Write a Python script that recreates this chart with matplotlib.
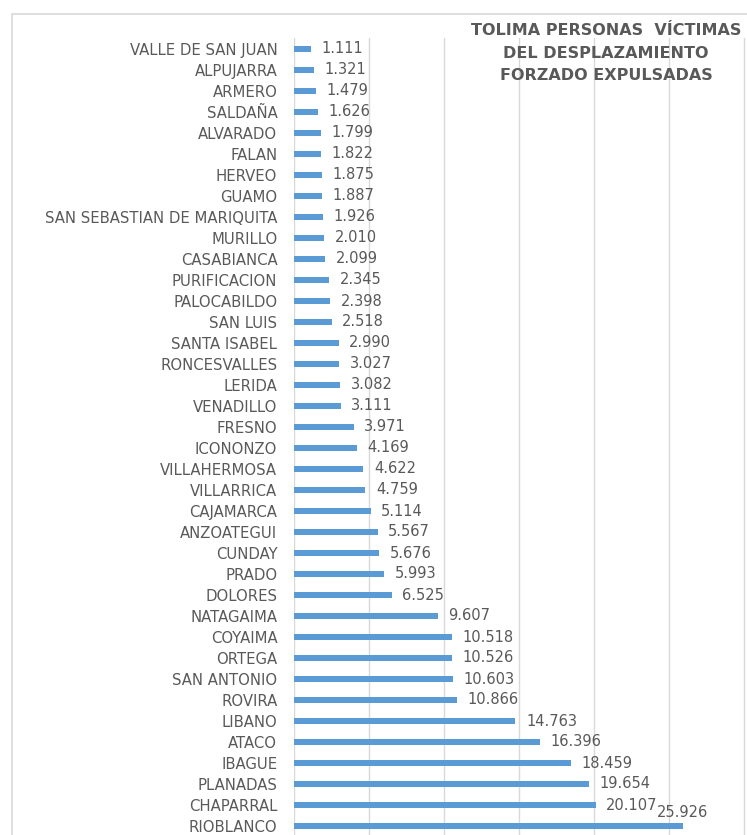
import matplotlib
matplotlib.use('Agg')
import matplotlib.pyplot as plt
from matplotlib.patches import Rectangle

municipios = ['VALLE DE SAN JUAN', 'ALPUJARRA', 'ARMERO', 'SALDAÑA', 'ALVARADO',
              'FALAN', 'HERVEO', 'GUAMO', 'SAN SEBASTIAN DE MARIQUITA', 'MURILLO',
              'CASABIANCA', 'PURIFICACION', 'PALOCABILDO', 'SAN LUIS', 'SANTA ISABEL',
              'RONCESVALLES', 'LERIDA', 'VENADILLO', 'FRESNO', 'ICONONZO',
              'VILLAHERMOSA', 'VILLARRICA', 'CAJAMARCA', 'ANZOATEGUI', 'CUNDAY',
              'PRADO', 'DOLORES', 'NATAGAIMA', 'COYAIMA', 'ORTEGA',
              'SAN ANTONIO', 'ROVIRA', 'LIBANO', 'ATACO', 'IBAGUE',
              'PLANADAS', 'CHAPARRAL', 'RIOBLANCO']
victimas = [1111, 1321, 1479, 1626, 1799,
            1822, 1875, 1887, 1926, 2010,
            2099, 2345, 2398, 2518, 2990,
            3027, 3082, 3111, 3971, 4169,
            4622, 4759, 5114, 5567, 5676,
            5993, 6525, 9607, 10518, 10526,
            10603, 10866, 14763, 16396, 18459,
            19654, 20107, 25926]
titulo = 'TOLIMA PERSONAS  VÍCTIMAS\nDEL DESPLAZAMIENTO\nFORZADO EXPULSADAS'

gris = '#595959'
azul = '#5B9BD5'


def fmt(v):
    return '{:,}'.format(v).replace(',', '.')


def main():
    plt.rcParams['font.family'] = 'DejaVu Sans'
    fig = plt.figure(figsize=(7.47, 8.35), dpi=100)

    # outer chart frame (cut off at right and bottom)
    fig.patches.append(Rectangle((12/747, -0.1), 2, 1.1 - 14/835, transform=fig.transFigure,
                                 fill=False, edgecolor='#d9d9d9', linewidth=1.2))

    ax = fig.add_axes([294/747, 1 - 836.5/835, (747 - 294)/747, (836.5 - 38.5)/835])
    y = list(range(len(municipios)))
    ax.barh(y, victimas, height=0.33, color=azul, zorder=3)
    ax.set_xlim(0, 30200)
    ax.set_ylim(len(municipios) - 0.5, -0.5)
    ax.set_xticks(range(0, 30001, 5000))
    ax.set_xticklabels([])
    ax.grid(axis='x', color='#d9d9d9', linewidth=1, zorder=0)
    ax.tick_params(axis='x', length=0)
    ax.tick_params(axis='y', length=0, pad=12, labelsize=10.75, labelcolor=gris)
    ax.set_yticks(y)
    ax.set_yticklabels(municipios)
    for s in ax.spines.values():
        s.set_visible(False)

    for i, v in enumerate(victimas):
        if i == len(victimas) - 1:
            ax.text(v, i - 0.65, fmt(v), ha='center', va='center', fontsize=10.5, color=gris)
        else:
            ax.text(v + 700, i, fmt(v), ha='left', va='center', fontsize=10.5, color=gris)

    fig.text(606/747, 1 - 53/835, titulo, ha='center', va='center', fontsize=11.5,
             fontweight='bold', color=gris, linespacing=1.65)

    fig.savefig('out.png', dpi=100)


if __name__ == '__main__':
    main()
